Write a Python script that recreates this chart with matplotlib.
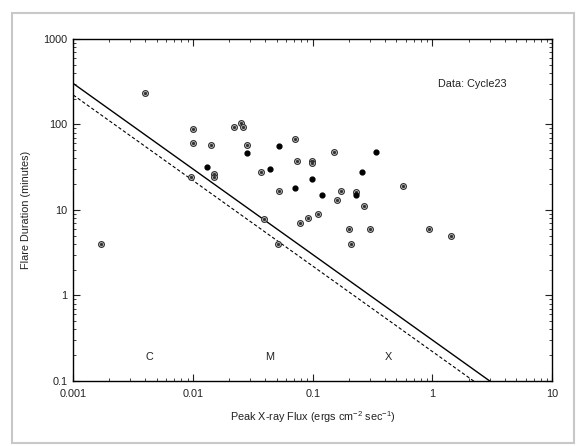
import matplotlib
matplotlib.use("Agg")
import matplotlib.pyplot as plt
from matplotlib.patches import Rectangle
import numpy as np

plt.rcParams['font.family'] = ['Liberation Sans', 'DejaVu Sans']
plt.rcParams['mathtext.fontset'] = 'custom'
plt.rcParams['mathtext.rm'] = 'Liberation Sans'

# open circles (with dot)
open_flux = [0.0040, 0.0017, 0.0100, 0.0100, 0.0097, 0.0140, 0.0151, 0.0151,
             0.0220, 0.0250, 0.0261, 0.0282, 0.0368, 0.0392, 0.0512, 0.0522,
             0.0711, 0.0741, 0.0780, 0.0910, 0.0995, 0.0990, 0.1110, 0.1500,
             0.1610, 0.1710, 0.2010, 0.2090, 0.2300, 0.2700, 0.3020, 0.5710,
             0.9400, 1.4400]
open_dur = [235, 4.0, 88, 60, 24, 57, 26, 24,
            92, 104, 92, 58, 28, 7.9, 4.0, 16.8,
            67, 36.8, 7.0, 8.0, 37, 35.5, 9.0, 46.9,
            12.9, 16.8, 6.0, 4.0, 16.0, 11.0, 6.0, 19.0,
            6.0, 5.0]

# filled dots
fill_flux = [0.0130, 0.0282, 0.0442, 0.0522, 0.0711, 0.0995, 0.1206, 0.2320,
             0.2590, 0.3400]
fill_dur = [31.9, 46, 30, 56.5, 18, 22.9, 14.9, 14.9, 28, 46.9]

# limit lines: duration = k / flux
solid_k = 0.30
dashed_k = 0.22
line_flux = [0.001, 10]

fs = 7.8
tc = '#222222'

fig = plt.figure(figsize=(5.77, 4.46), dpi=100)
ax = fig.add_axes([0.127, 0.146, 0.83, 0.767])

xs = np.array(line_flux)
ax.plot(xs, solid_k / xs, color='black', lw=1.0)
ax.plot(xs, dashed_k / xs, color='black', lw=0.8, ls=(0, (3, 2)))

ax.scatter(open_flux, open_dur, s=17, facecolors='white', edgecolors='#333333',
           linewidths=0.9, zorder=3)
ax.scatter(open_flux, open_dur, s=2, color='#333333', zorder=4)
ax.scatter(fill_flux, fill_dur, s=12, color='black', zorder=4)

ax.set_xscale('log')
ax.set_yscale('log')
ax.set_xlim(0.001, 10)
ax.set_ylim(0.1, 1000)
ax.set_xticks([0.001, 0.01, 0.1, 1, 10])
ax.set_xticklabels(['0.001', '0.01', '0.1', '1', '10'])
ax.set_yticks([0.1, 1, 10, 100, 1000])
ax.set_yticklabels(['0.1', '1', '10', '100', '1000'])
ax.tick_params(which='both', direction='in', top=True, right=True,
               labelsize=fs, colors=tc)
ax.tick_params(which='major', length=5, width=0.8)
ax.tick_params(which='minor', length=2.5, width=0.6)
ax.tick_params(axis='x', which='major', pad=6)
ax.tick_params(axis='y', which='major', pad=4)
for s in ax.spines.values():
    s.set_linewidth(1.0)

ax.set_xlabel('Peak X-ray Flux (ergs cm$^{-2}$ sec$^{-1}$)', fontsize=fs,
              color=tc)
ax.set_ylabel('Flare Duration (minutes)', fontsize=fs, color=tc)
ax.xaxis.set_label_coords(0.5, -0.083)
ax.yaxis.set_label_coords(-0.089, 0.5)

ax.text(2.15, 298, 'Data: Cycle23', fontsize=fs, ha='center', va='center',
        color=tc)
ax.text(0.0043, 0.19, 'C', fontsize=fs, ha='center', va='center', color=tc)
ax.text(0.0435, 0.19, 'M', fontsize=fs, ha='center', va='center', color=tc)
ax.text(0.43, 0.19, 'X', fontsize=fs, ha='center', va='center', color=tc)

fig.patches.append(Rectangle((12 / 577, 3 / 446), 562 / 577, 430 / 446,
                             transform=fig.transFigure, fill=False,
                             edgecolor='#c8c8c8', lw=1.5))

fig.savefig('out.png', dpi=100)
